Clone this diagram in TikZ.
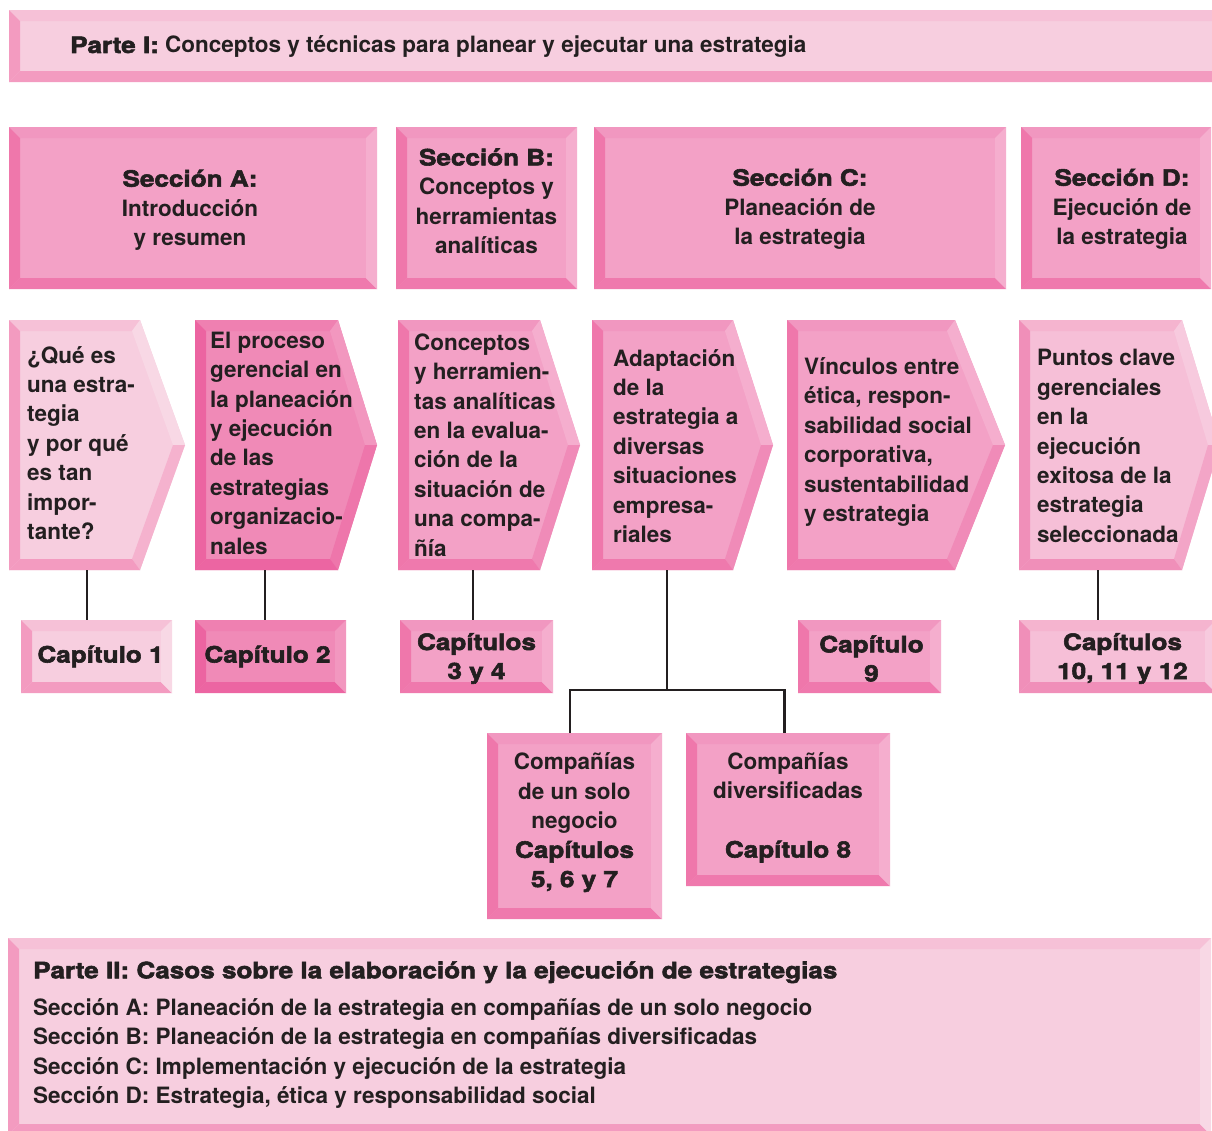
\documentclass[tikz,border=0pt]{standalone}
\usepackage{fontspec}
\setmainfont{TeX Gyre Heros}
\newfontfamily\heavyfont{texgyreheros-bold.otf}[FakeBold=2.5, FakeStretch=1.16]
\newcommand{\hvy}{\heavyfont\mdseries}
\definecolor{ink}{HTML}{231F20}
% light
\definecolor{Lin}{HTML}{F7CEDF}\definecolor{Ltop}{HTML}{F6C1D7}\definecolor{Lleft}{HTML}{F39BC0}
\definecolor{Lbot}{HTML}{F39BC0}\definecolor{Lright}{HTML}{F8D8E5}\definecolor{Ldu}{HTML}{F8D8E5}\definecolor{Ldl}{HTML}{F5B2CE}
% light 2
\definecolor{Pin}{HTML}{F6BFD7}\definecolor{Ptop}{HTML}{F5B4CF}\definecolor{Pleft}{HTML}{F08FB9}
\definecolor{Pbot}{HTML}{F08FB9}\definecolor{Pright}{HTML}{F7CADE}\definecolor{Pdu}{HTML}{F7CADE}\definecolor{Pdl}{HTML}{F3A5C7}
% medium
\definecolor{Min}{HTML}{F3A1C6}\definecolor{Mtop}{HTML}{F197C0}\definecolor{Mleft}{HTML}{EF77AB}
\definecolor{Mbot}{HTML}{EF79AD}\definecolor{Mright}{HTML}{F5AECE}\definecolor{Mdu}{HTML}{F5AECE}\definecolor{Mdl}{HTML}{F08BB8}
% dark
\definecolor{Din}{HTML}{F08AB7}\definecolor{Dtop}{HTML}{EF80B1}\definecolor{Dleft}{HTML}{EC64A1}
\definecolor{Dbot}{HTML}{EC65A2}\definecolor{Dright}{HTML}{F297BF}\definecolor{Ddu}{HTML}{F297BF}\definecolor{Ddl}{HTML}{EE76AB}
\def\bvw{11}
\newcommand{\bevrect}[6]{%
 \fill[#6in] (#2,#3) rectangle (#4,#5);
 \fill[#6top] (#2,#3) -- (#4,#3) -- (#4-\bvw,#3+\bvw) -- (#2+\bvw,#3+\bvw) -- cycle;
 \fill[#6bot] (#2,#5) -- (#4,#5) -- (#4-\bvw,#5-\bvw) -- (#2+\bvw,#5-\bvw) -- cycle;
 \fill[#6left] (#2,#3) -- (#2+\bvw,#3+\bvw) -- (#2+\bvw,#5-\bvw) -- (#2,#5) -- cycle;
 \fill[#6right] (#4,#3) -- (#4-\bvw,#3+\bvw) -- (#4-\bvw,#5-\bvw) -- (#4,#5) -- cycle;
 \node[inner sep=0pt, outer sep=0pt, minimum width={(#4-#2)*1pt}, minimum height={(#5-#3)*1pt}] (#1) at ({(#2+#4)/2},{(#3+#5)/2}) {};
}
\newcommand{\bevchev}[7]{%
 \fill[#7in] (#2,#3) -- (#4,#3) -- (#5,{(#3+#6)/2}) -- (#4,#6) -- (#2,#6) -- cycle;
 \fill[#7top] (#2,#3) -- (#4,#3) -- (#4-8,#3+\bvw) -- (#2+\bvw,#3+\bvw) -- cycle;
 \fill[#7du] (#4,#3) -- (#5,{(#3+#6)/2}) -- (#5-12,{(#3+#6)/2}) -- (#4-8,#3+\bvw) -- cycle;
 \fill[#7dl] (#5,{(#3+#6)/2}) -- (#4,#6) -- (#4-8,#6-\bvw) -- (#5-12,{(#3+#6)/2}) -- cycle;
 \fill[#7bot] (#4,#6) -- (#2,#6) -- (#2+\bvw,#6-\bvw) -- (#4-8,#6-\bvw) -- cycle;
 \fill[#7left] (#2,#3) -- (#2+\bvw,#3+\bvw) -- (#2+\bvw,#6-\bvw) -- (#2,#6) -- cycle;
 \node[inner sep=0pt, outer sep=0pt, minimum width={(#4-#2)*1pt}, minimum height={(#6-#3)*1pt}] (#1) at ({(#2+#4)/2},{(#3+#6)/2}) {};
}
\begin{document}
\begin{tikzpicture}[x=1pt,y=-1pt,
  conn/.style={draw=ink, line width=2.4pt},
  body/.style={font=\bfseries\fontsize{22.5}{29.4}\selectfont, text=ink, inner sep=0pt, align=left, anchor=west},
  hdtxt/.style={font=\bfseries\fontsize{22.5}{29.3}\selectfont, text=ink, inner sep=0pt, align=center},
  captxt/.style={font=\hvy\fontsize{22.5}{29}\selectfont, text=ink, inner sep=0pt, align=center},
  parttxt/.style={font=\bfseries\fontsize{22.5}{29.5}\selectfont, text=ink, inner sep=0pt, align=left, anchor=west}]
\path[use as bounding box, clip] (0,0) rectangle (1212,1130);
\fill[white] (0,0) rectangle (1212,1130);
% Parte I banner
\bevrect{p1}{9}{10}{1224}{82}{L}
% section headers
\bevrect{sA}{9}{127}{377}{289}{M}
\bevrect{sB}{396}{127}{577}{289}{M}
\bevrect{sC}{594}{127}{1006}{289}{M}
\bevrect{sD}{1021}{127}{1211}{289}{M}
% chevrons
\bevchev{ch1}{9}{320}{140}{185}{570}{L}
\bevchev{ch2}{195}{320}{338}{377}{570}{D}
\bevchev{ch3}{398}{320}{540}{580}{570}{M}
\bevchev{ch4}{592}{320}{733}{773}{570}{M}
\bevchev{ch5}{787}{320}{955}{1005}{570}{M}
\bevchev{ch6}{1019}{320}{1182}{1220}{570}{P}
% chapter boxes
\bevrect{cap1}{21}{620}{172}{693}{L}
\bevrect{cap2}{195}{620}{346}{693}{D}
\bevrect{cap34}{400}{620}{553}{693}{M}
\bevrect{cap9}{798}{620}{941}{693}{M}
\bevrect{cap1012}{1019}{620}{1216}{693}{P}
% lower boxes
\bevrect{sol}{487}{733}{662}{919}{M}
\bevrect{div}{686}{733}{890}{886}{M}
% Parte II
\bevrect{p2}{8}{938}{1211}{1135}{L}
% connectors
\coordinate (k1) at (87,570);
\coordinate (k2) at (265,570);
\coordinate (k3) at (473,570);
\coordinate (k4) at (667,570);
\coordinate (k6) at (1098,570);
\coordinate (junc) at (667,690);
\draw[conn] (k1) -- (k1 |- cap1.north);
\draw[conn] (k2) -- (k2 |- cap2.north);
\draw[conn] (k3) -- (k3 |- cap34.north);
\draw[conn] (k6) -- (k6 |- cap1012.north);
\draw[conn] (k4) -- (junc);
\draw[conn] ([xshift=-4.5pt]sol.north) |- (junc) -| ([xshift=-3.5pt]div.north);
% texts
\node[parttxt] (tp1) at (70,47) {{\hvy Parte I:} Conceptos y técnicas para planear y ejecutar una estrategia};
\node[hdtxt] (tA) at ([xshift=-3pt,yshift=-2pt]sA.center) {{\hvy Sección A:}\\Introducción\\y resumen};
\node[hdtxt] (tB) at ([yshift=7pt]sB.center) {{\hvy Sección B:}\\Conceptos y\\herramientas\\analíticas};
\node[hdtxt] (tC) at ([yshift=-1pt]sC.center) {{\hvy Sección C:}\\Planeación de\\la estrategia};
\node[hdtxt] (tD) at ([xshift=6pt,yshift=-1pt]sD.center) {{\hvy Sección D:}\\Ejecución de\\la estrategia};
\node[body] (t1) at (27,443) {¿Qué es\\una estra-\\tegia\\y por qué\\es tan\\impor-\\tante?};
\node[body] (t2) at (210,443) {El proceso\\gerencial en\\la planeación\\y ejecución\\de las\\estrategias\\organizacio-\\nales};
\node[body] (t3) at (414,445) {Conceptos\\y herramien-\\tas analíticas\\en la evalua-\\ción de la\\situación de\\una compa-\\ñía};
\node[body] (t4) at (613,446) {Adaptación\\de la\\estrategia a\\diversas\\situaciones\\empresa-\\riales};
\node[body] (t5) at (804,442) {Vínculos entre\\ética, respon-\\sabilidad social\\corporativa,\\sustentabilidad\\y estrategia};
\node[body] (t6) at (1037,446) {Puntos clave\\gerenciales\\en la\\ejecución\\exitosa de la\\estrategia\\seleccionada};
\node[captxt] (tc1) at ([xshift=4pt]cap1.center) {Capítulo 1};
\node[captxt] (tc2) at ([xshift=-3pt]cap2.center) {Capítulo 2};
\node[captxt] (tc34) at ([yshift=-2pt]cap34.center) {Capítulos\\3 y 4};
\node[captxt] (tc9) at ([xshift=2pt,yshift=-2pt]cap9.center) {Capítulo\\9};
\node[captxt] (tc1012) at ([xshift=5pt,yshift=-2pt]cap1012.center) {Capítulos\\10, 11 y 12};
\node[hdtxt] (tsol) at ([yshift=3.5pt]sol.center) {Compañías\\de un solo\\negocio\\{\hvy Capítulos}\\{\hvy 5, 6 y 7}};
\node[hdtxt] (tdiv) at ([yshift=2pt]div.center) {Compañías\\diversificadas\\[29.5pt]{\hvy Capítulo 8}};
\node[parttxt] (tp2) at (33,1035) {{\hvy Parte II: Casos sobre la elaboración y la ejecución de estrategias}\\[7.5pt]Sección A: Planeación de la estrategia en compañías de un solo negocio\\Sección B: Planeación de la estrategia en compañías diversificadas\\Sección C: Implementación y ejecución de la estrategia\\Sección D: Estrategia, ética y responsabilidad social};
\end{tikzpicture}
\end{document}
